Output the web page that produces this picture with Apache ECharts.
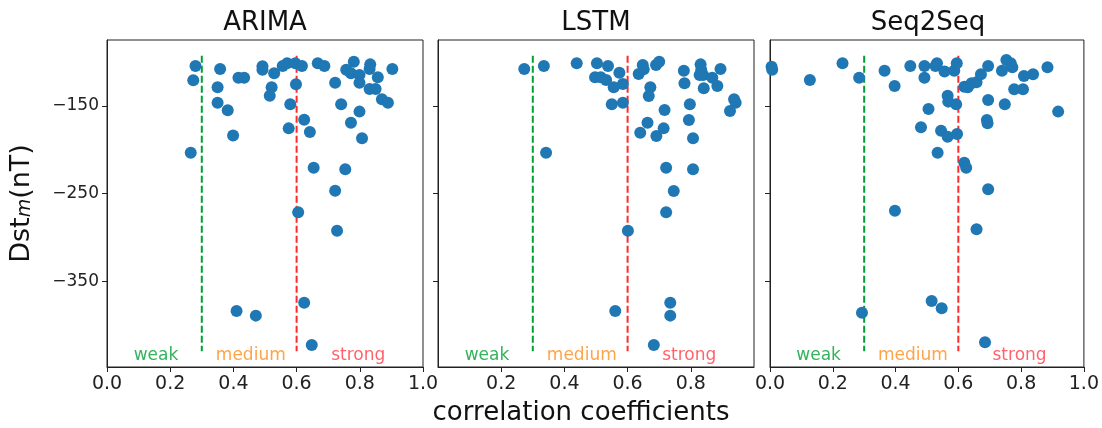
<!DOCTYPE html>
<html>
<head>
<meta charset="utf-8">
<script src="https://cdn.jsdelivr.net/npm/echarts@6/dist/echarts.min.js"></script>
<style>
  html, body { margin: 0; padding: 0; background: #fff; }
  #main { width: 1102px; height: 428px; }
</style>
</head>
<body>
<div id="main"></div>
<script>
// data: [correlation coefficient, Dst_m (nT)]
const models = ['ARIMA', 'LSTM', 'Seq2Seq'];

const arimaPoints = [
  [0.280, -104.7], [0.273, -121], [0.265, -203.5], [0.358, -108], [0.350, -129],
  [0.350, -146.5], [0.382, -155], [0.399, -184], [0.416, -118], [0.434, -118],
  [0.492, -105], [0.492, -109], [0.529, -113], [0.521, -129], [0.515, -138.5],
  [0.556, -104.7], [0.570, -101.6], [0.596, -101.6], [0.617, -104.7], [0.598, -125.6],
  [0.580, -148.4], [0.575, -175.8], [0.624, -166], [0.642, -180], [0.654, -220.6],
  [0.667, -101.6], [0.688, -104.7], [0.722, -123.7], [0.741, -148.4], [0.722, -247],
  [0.754, -222.5], [0.772, -169.5], [0.781, -99.7], [0.757, -109], [0.772, -113],
  [0.799, -115], [0.799, -123.7], [0.799, -156.7], [0.807, -187], [0.833, -102.8],
  [0.831, -108], [0.857, -117.6], [0.831, -131], [0.850, -131], [0.870, -142.7],
  [0.889, -146.5], [0.903, -108], [0.605, -271.6], [0.728, -292.5], [0.624, -374.6],
  [0.410, -384.1], [0.471, -389.4], [0.648, -422.9]
];

const lstmPoints = [
  [0.273, -108], [0.335, -104.7], [0.342, -203.5], [0.439, -101.6], [0.503, -101.6],
  [0.538, -104.7], [0.497, -117.6], [0.515, -117.6], [0.532, -120.6], [0.574, -112.3],
  [0.556, -129], [0.585, -125.2], [0.550, -148.4], [0.585, -146.5], [0.635, -113.8],
  [0.648, -103.5], [0.651, -108.5], [0.690, -103.5], [0.700, -99.7], [0.672, -129],
  [0.667, -138.9], [0.663, -169.3], [0.640, -180.7], [0.691, -184.5], [0.714, -175.8],
  [0.717, -154.8], [0.722, -220.6], [0.746, -247.2], [0.778, -110], [0.780, -124.4],
  [0.797, -148.4], [0.794, -166.3], [0.807, -187.2], [0.807, -222.5], [0.831, -102.8],
  [0.833, -109], [0.839, -115], [0.868, -118], [0.828, -115], [0.841, -130.1],
  [0.884, -127.5], [0.894, -108], [0.937, -142.7], [0.942, -146.5], [0.924, -156],
  [0.722, -271.6], [0.601, -292.5], [0.735, -374.6], [0.561, -384.1], [0.735, -389.4],
  [0.683, -422.9]
];

const seq2seqPoints = [
  [0.005, -105.4], [0.007, -109], [0.127, -120.6], [0.231, -101.6], [0.284, -118],
  [0.365, -110], [0.397, -127.5], [0.447, -104.7], [0.492, -104.7], [0.492, -118],
  [0.527, -104.7], [0.532, -101.6], [0.556, -111], [0.587, -110], [0.595, -101.6],
  [0.505, -153.7], [0.566, -138.5], [0.568, -145.3], [0.593, -148.4], [0.481, -174.6],
  [0.545, -178.4], [0.566, -185.3], [0.596, -182.2], [0.534, -203.5], [0.619, -128.2],
  [0.630, -129], [0.642, -124.4], [0.658, -123.3], [0.672, -114.2], [0.695, -104.7],
  [0.695, -143.4], [0.691, -166.3], [0.693, -170], [0.619, -215], [0.625, -220.6],
  [0.695, -245.3], [0.739, -110], [0.753, -97.8], [0.767, -101.6], [0.772, -106.2],
  [0.748, -148.4], [0.778, -131.3], [0.806, -131.3], [0.809, -116], [0.838, -114.2],
  [0.884, -106.2], [0.918, -156.7], [0.398, -269.7], [0.658, -291], [0.515, -372.7],
  [0.547, -381.1], [0.293, -386], [0.685, -419.9]
];

const allPoints = [arimaPoints, lstmPoints, seq2seqPoints];

// weak / medium / strong boundaries and their labels
const thresholds = [0.3, 0.6];
const thresholdColors = ['#00a032', '#ff2a2a'];
const thresholdSpan = [-93, -430];
const zoneNames = ['weak', 'medium', 'strong'];
const zoneX = [0.155, 0.455, 0.795];
const zoneY = -435;
const zoneColors = ['#00a032', '#ff8c1a', '#ff3b47'];

const yTicks = [-350, -250, -150];

const gridLefts = [107, 438, 770];
const gridWidth = 316;
const gridTop = 40;
const gridHeight = 327;
const font = 'DejaVu Sans';

const chart = echarts.init(document.getElementById('main'));

const grids = [], xAxes = [], yAxes = [], series = [], graphics = [];

models.forEach((name, i) => {
  grids.push({
    left: gridLefts[i], top: gridTop, width: gridWidth, height: gridHeight,
    show: true, borderColor: '#222', borderWidth: 1, backgroundColor: 'transparent'
  });
  xAxes.push({
    type: 'value', gridIndex: i, min: 0, max: 1, interval: 0.2,
    axisLine: { show: true, onZero: false, lineStyle: { color: '#222', width: 1 } },
    axisTick: { show: true, inside: false, length: 5, lineStyle: { color: '#222' } },
    splitLine: { show: false },
    axisLabel: {
      show: true, fontFamily: font, fontSize: 19, color: '#222', margin: 8,
      showMinLabel: i !== 1, showMaxLabel: i !== 1,
      formatter: v => v.toFixed(1)
    }
  });
  yAxes.push({
    type: 'value', gridIndex: i, min: -448, max: -75,
    axisLine: { show: true, onZero: false, lineStyle: { color: '#222', width: 1 } },
    axisTick: { show: true, inside: false, length: 5, customValues: yTicks, lineStyle: { color: '#222' } },
    splitLine: { show: false },
    axisLabel: {
      show: i === 0, customValues: yTicks, fontFamily: font, fontSize: 17, color: '#222', margin: 8,
      formatter: v => '\u2212' + Math.abs(v)
    },
    name: i === 0 ? '{a|Dst}{m|m}{a|(nT)}' : '',
    nameLocation: 'middle', nameGap: 72, nameRotate: 90,
    nameTextStyle: {
      rich: {
        a: { fontFamily: font, fontSize: 27, color: '#111', lineHeight: 30, verticalAlign: 'bottom' },
        m: { fontFamily: font, fontSize: 19, fontStyle: 'italic', color: '#111', lineHeight: 12, verticalAlign: 'bottom' }
      }
    }
  });

  series.push({
    type: 'scatter', xAxisIndex: i, yAxisIndex: i, clip: true,
    symbolSize: 12, itemStyle: { color: '#1f77b4', opacity: 1 },
    data: allPoints[i], z: 3
  });

  thresholds.forEach((t, k) => {
    series.push({
      type: 'line', xAxisIndex: i, yAxisIndex: i, symbol: 'none',
      data: [[t, thresholdSpan[0]], [t, thresholdSpan[1]]],
      lineStyle: { color: thresholdColors[k], width: 2, type: [7, 3] }, z: 2
    });
  });

  series.push({
    type: 'scatter', xAxisIndex: i, yAxisIndex: i, symbolSize: 0,
    data: zoneNames.map((n, k) => ({
      value: [zoneX[k], zoneY],
      label: { color: zoneColors[k] }
    })),
    label: {
      show: true, position: 'inside', fontFamily: font, fontSize: 17,
      formatter: p => zoneNames[p.dataIndex]
    },
    z: 4
  });

  graphics.push({
    type: 'text', x: gridLefts[i] + gridWidth / 2, y: 23,
    style: { text: name, font: '26px "DejaVu Sans"', fill: '#111', textAlign: 'center', textVerticalAlign: 'middle' }
  });
});

graphics.push({
  type: 'text', x: 581, y: 413,
  style: { text: 'correlation coefficients', font: '26px "DejaVu Sans"', fill: '#111', textAlign: 'center', textVerticalAlign: 'middle' }
});

chart.setOption({
  animation: false,
  backgroundColor: '#fff',
  grid: grids,
  xAxis: xAxes,
  yAxis: yAxes,
  series: series,
  graphic: graphics
});
</script>
</body>
</html>
